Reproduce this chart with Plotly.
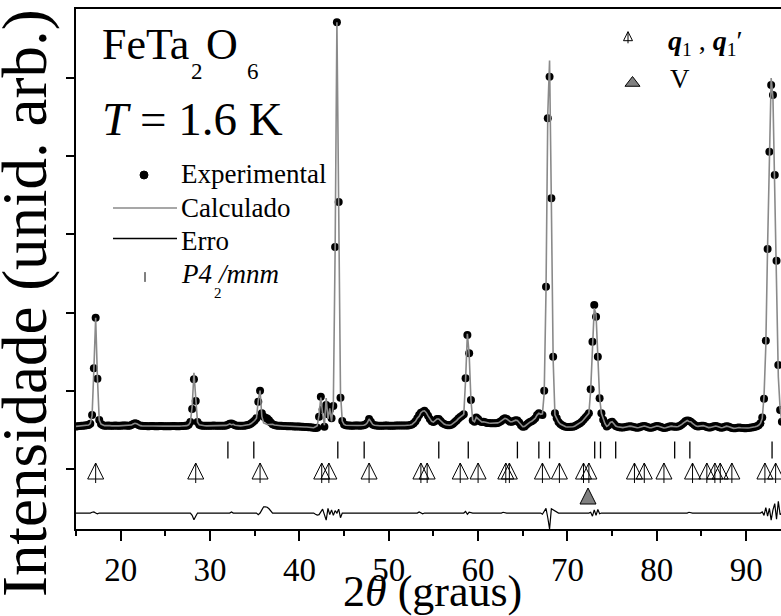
import numpy as np
import plotly.graph_objects as go

# ---------------- data ----------------
theta_start = 15.0   # first 2theta of the scan (degrees)
theta_step = 0.2     # scan step (degrees)

# observed intensity (arb. units), one row per 2 degrees
intensity_obs = [
    545, 548, 550, 552, 555, 558, 560, 562, 580, 691,        # 15.0-16.8
    1288, 1935, 1155, 627, 575, 560, 555, 555, 558, 555,     # 17.0-18.8
    552, 555, 556, 554, 552, 553, 556, 558, 556, 553,        # 19.0-20.8
    555, 562, 575, 585, 578, 562, 555, 552, 550, 550,        # 21.0-22.8
    548, 548, 550, 550, 548, 547, 548, 550, 550, 548,        # 23.0-24.8
    548, 547, 547, 548, 550, 550, 548, 547, 548, 550,        # 25.0-26.8
    550, 552, 555, 565, 600, 767, 1147, 870, 600, 565,       # 27.0-28.8
    558, 555, 553, 552, 552, 553, 555, 556, 555, 553,        # 29.0-30.8
    552, 552, 553, 555, 558, 565, 578, 582, 572, 560,        # 31.0-32.8
    555, 553, 552, 553, 555, 558, 563, 570, 582, 600,        # 33.0-34.8
    620, 650, 861, 1002, 712, 670, 655, 645, 625, 595,       # 35.0-36.8
    572, 562, 558, 555, 553, 552, 550, 550, 548, 548,        # 37.0-38.8
    547, 546, 545, 545, 544, 543, 542, 540, 538, 537,        # 39.0-40.8
    535, 533, 530, 528, 525, 528, 669, 925, 760, 541,        # 41.0-42.8
    818, 700, 755, 648, 806, 2839, 5713, 3415, 912, 614,     # 43.0-44.8
    570, 560, 558, 556, 555, 555, 556, 557, 556, 555,        # 45.0-46.8
    556, 560, 568, 590, 640, 605, 570, 560, 556, 555,        # 47.0-48.8
    554, 554, 555, 556, 556, 555, 554, 554, 555, 556,        # 49.0-50.8
    557, 558, 558, 557, 556, 556, 558, 562, 570, 585,        # 51.0-52.8
    610, 650, 690, 720, 730, 745, 720, 680, 640, 610,        # 53.0-54.8
    600, 615, 640, 640, 615, 590, 575, 565, 560, 560,        # 55.0-56.8
    565, 580, 600, 620, 645, 665, 680, 700, 1160, 1714,      # 57.0-58.8
    1480, 883, 620, 605, 660, 640, 612, 602, 605, 597,       # 59.0-60.8
    590, 588, 585, 585, 585, 584, 590, 600, 615, 635,        # 61.0-62.8
    648, 640, 620, 605, 605, 615, 625, 620, 595, 560,        # 63.0-64.8
    541, 545, 565, 584, 600, 610, 627, 650, 690, 712,        # 65.0-66.8
    700, 690, 1000, 2332, 4485, 5018, 3462, 1436, 712, 650,  # 67.0-68.8
    600, 575, 560, 548, 541, 538, 538, 540, 541, 548,        # 69.0-70.8
    560, 572, 584, 605, 630, 655, 680, 712, 1019, 1628,      # 71.0-72.8
    2098, 1948, 1436, 904, 712, 630, 580, 545, 560, 595,     # 73.0-74.8
    605, 580, 550, 541, 535, 530, 530, 535, 540, 545,        # 75.0-76.8
    548, 545, 538, 530, 528, 532, 540, 548, 550, 545,        # 77.0-78.8
    535, 528, 528, 535, 545, 550, 548, 540, 530, 525,        # 79.0-80.8
    528, 535, 545, 548, 545, 540, 540, 545, 555, 570,        # 81.0-82.8
    590, 610, 620, 618, 605, 585, 565, 550, 545, 548,        # 83.0-84.8
    555, 555, 548, 538, 530, 532, 540, 548, 550, 545,        # 85.0-86.8
    535, 528, 530, 540, 548, 545, 535, 525, 520, 522,        # 87.0-88.8
    528, 530, 528, 525, 522, 522, 525, 528, 530, 535,        # 89.0-90.8
    540, 548, 560, 584, 660, 900, 1641, 2814, 4058, 4911,    # 91.0-92.8
    4783, 3760, 2664, 1330, 755, 605,                        # 93.0-94.0
]

# difference curve (obs - calc); zero where the curve is flat
diff_angles = [16.8, 17.0, 17.4, 28.0, 28.2, 28.4, 32.4,
               35.4, 35.8, 36.0, 36.2, 36.4, 36.6, 36.8,
               41.8, 42.0, 42.2, 42.4, 42.6, 42.8, 43.0, 43.2, 43.4, 43.6, 43.8, 44.0, 44.4, 44.6,
               53.4, 53.8, 58.6, 58.8, 59.0, 62.8,
               67.2, 67.4, 67.6, 67.8, 68.0, 68.2, 68.4, 68.6, 68.8,
               72.6, 72.8, 73.0, 73.2, 73.4, 73.6, 83.6,
               91.8, 92.0, 92.2, 92.4, 92.6, 92.8, 93.0, 93.2, 93.4, 93.6, 93.8]
diff_values = [10, 15, -10, -30, -85, -40, 15,
               -20, 40, 80, 80, 75, 55, 20,
               -15, -25, -20, 10, 50, -20, -90, 60, -20, 40, -30, 30, 50, -60,
               15, -10, 20, -15, 10, 10,
               -15, 30, 60, -60, -205, 55, 40, 20, 10,
               10, -40, 40, -30, 45, -10, 10,
               15, -30, 70, -40, 60, -90, 40, 120, -80, 150, -20]

# Bragg reflections of the nuclear phase P4_2/mnm
bragg_nuclear = [32.0, 34.9, 44.3, 47.25, 55.6, 58.9, 64.4, 66.8, 68.0,
                 73.05, 73.7, 75.4, 82.0, 83.7, 92.9]
# magnetic reflections q1, q1'
bragg_magnetic = [17.2, 28.4, 35.6, 42.5, 43.3, 47.8, 53.6, 54.3, 58.0, 60.0,
                  63.1, 63.5, 67.2, 69.1, 71.8, 72.4, 77.5, 78.6, 80.8,
                  84.0, 85.6, 86.5, 87.1, 88.4, 92.1, 93.3]
# vanadium (sample holder) reflection
bragg_vanadium = [72.3]

x_ticks = [20, 30, 40, 50, 60, 70, 80, 90]
y_ticks = [0, 1000, 2000, 3000, 4000, 5000]

# ---------------- derived series ----------------
obs = np.array(intensity_obs, dtype=float)
two_theta = np.round(theta_start + theta_step * np.arange(len(obs)), 2)
diff = np.zeros_like(obs)
for a, v in zip(diff_angles, diff_values):
    diff[int(round((a - theta_start) / theta_step))] = v
calc = obs - diff

# ---------------- layout constants ----------------
FONT = "Liberation Serif, Times New Roman, serif"
W, H = 781, 616
L, R, T, B = 76, 781, 9, 529          # plot-area pixel box
DIFF_OFFSET = -563
ROW_NUCLEAR = 243
ROW_MAG_APEX = 77
ROW_MAG_STEM = -51
ROW_V_APEX = -243


def px(xp):
    return (xp - L) / (R - L)


def py(yp):
    return (B - yp) / (B - T)


fig = go.Figure()

fig.add_trace(go.Scatter(x=two_theta, y=obs, mode="markers",
                         marker=dict(size=8, color="black"), name="Experimental"))
fig.add_trace(go.Scatter(x=two_theta, y=calc, mode="lines",
                         line=dict(color="#8a8a8a", width=1.6), name="Calculado"))
fig.add_trace(go.Scatter(x=two_theta, y=diff + DIFF_OFFSET, mode="lines",
                         line=dict(color="black", width=1.2), name="Erro"))
fig.add_trace(go.Scatter(x=bragg_nuclear, y=[ROW_NUCLEAR] * len(bragg_nuclear), mode="markers",
                         marker=dict(symbol="line-ns", size=12, color="black",
                                     line=dict(width=1.3, color="black"))))
fig.add_trace(go.Scatter(x=bragg_magnetic, y=[ROW_MAG_APEX] * len(bragg_magnetic), mode="markers",
                         marker=dict(symbol="arrow-up-open", size=16, color="black",
                                     line=dict(width=1, color="black"))))
fig.add_trace(go.Scatter(x=bragg_magnetic, y=[ROW_MAG_STEM] * len(bragg_magnetic), mode="markers",
                         marker=dict(symbol="line-ns", size=14.3, color="black",
                                     line=dict(width=1, color="black"))))
fig.add_trace(go.Scatter(x=bragg_vanadium, y=[ROW_V_APEX] * len(bragg_vanadium), mode="markers",
                         marker=dict(symbol="arrow-up", size=16, color="#808080",
                                     line=dict(width=1, color="black"))))

# legend glyphs on an overlay axis measured in pixels
leg_x = [144, 145, 628, 628, 632.5]
leg_y = [175, 277, 31.7, 37.5, 83]
leg_sym = ["circle", "line-ns", "arrow-up-open", "line-ns", "triangle-up"]
leg_size = [8, 7, 9, 8.3, 13]
leg_col = ["black", "black", "black", "black", "#808080"]
for xx, yy, s, sz, c in zip(leg_x, leg_y, leg_sym, leg_size, leg_col):
    fig.add_trace(go.Scatter(x=[xx], y=[yy], xaxis="x2", yaxis="y2", mode="markers",
                             cliponaxis=False,
                             marker=dict(symbol=s, size=sz, color=c,
                                         line=dict(width=1, color="black"))))

shapes = [
    dict(type="line", xref="paper", yref="paper", x0=px(113), x1=px(177), y0=py(208), y1=py(208),
         line=dict(color="#8a8a8a", width=1.6)),
    dict(type="line", xref="paper", yref="paper", x0=px(113), x1=px(177), y0=py(238.5), y1=py(238.5),
         line=dict(color="black", width=1.6)),
]


def ann(text, xl, yc, size, **kw):
    d = dict(text=text, xref="paper", yref="paper", x=px(xl), y=py(yc),
             xanchor="left", yanchor="middle", showarrow=False,
             font=dict(family=FONT, size=size, color="black"))
    d.update(kw)
    return d


annotations = [
    ann("FeTa", 100, 45.0, 44),
    ann("2", 189, 71.0, 23),
    ann("O", 204, 45.0, 44),
    ann("6", 245, 71.0, 23),
    ann("<i>T</i> = 1.6 K", 100, 119.0, 47),
    ann("Experimental", 179, 173.8, 27),
    ann("Calculado", 179, 207.5, 27),
    ann("Erro", 179, 240.8, 27),
    ann("<i>P4</i>", 179, 274.0, 27),
    ann("2", 212, 293, 15),
    ann("<i>/mnm</i>", 215, 274.0, 27),
    ann("<b><i>q</i></b><sub>1</sub> , <b><i>q</i></b><sub>1</sub>′", 666, 42.5, 28),
    ann("V", 668, 78.8, 27),
    dict(text="2<i>θ</i> (graus)", xref="paper", yref="paper", x=px(433), y=py(591.5),
         xanchor="center", yanchor="middle", showarrow=False,
         font=dict(family=FONT, size=44, color="black")),
    dict(text="Intensidade (unid. arb.)", xref="paper", yref="paper", x=px(25), y=py(303),
         xanchor="center", yanchor="middle", showarrow=False, textangle=-90,
         font=dict(family=FONT, size=63, color="black")),
]

fig.update_layout(
    width=W, height=H,
    margin=dict(l=L, r=W - R, t=T, b=H - B, pad=0),
    paper_bgcolor="white", plot_bgcolor="white",
    showlegend=False,
    font=dict(family=FONT, color="black"),
    xaxis=dict(range=[15, 93.9], tickvals=x_ticks, ticks="outside", ticklen=10, tickwidth=2,
               tickcolor="black", showline=True, linewidth=2, linecolor="black", mirror=True,
               showgrid=False, zeroline=False, tickfont=dict(family=FONT, size=33, color="black"),
               minor=dict(ticks="outside", ticklen=5, tickwidth=2, tickcolor="black", dtick=5, tick0=0,
                          showgrid=False)),
    yaxis=dict(range=[-767, 5883], tickvals=y_ticks, showticklabels=False, ticks="outside",
               ticklen=8, tickwidth=2, tickcolor="black", showline=True, linewidth=2,
               linecolor="black", showgrid=False, zeroline=False),
    xaxis2=dict(overlaying="x", range=[L, R], visible=False),
    yaxis2=dict(overlaying="y", range=[B, T], visible=False),
    shapes=shapes,
    annotations=annotations,
)

fig.write_html("out.html")
